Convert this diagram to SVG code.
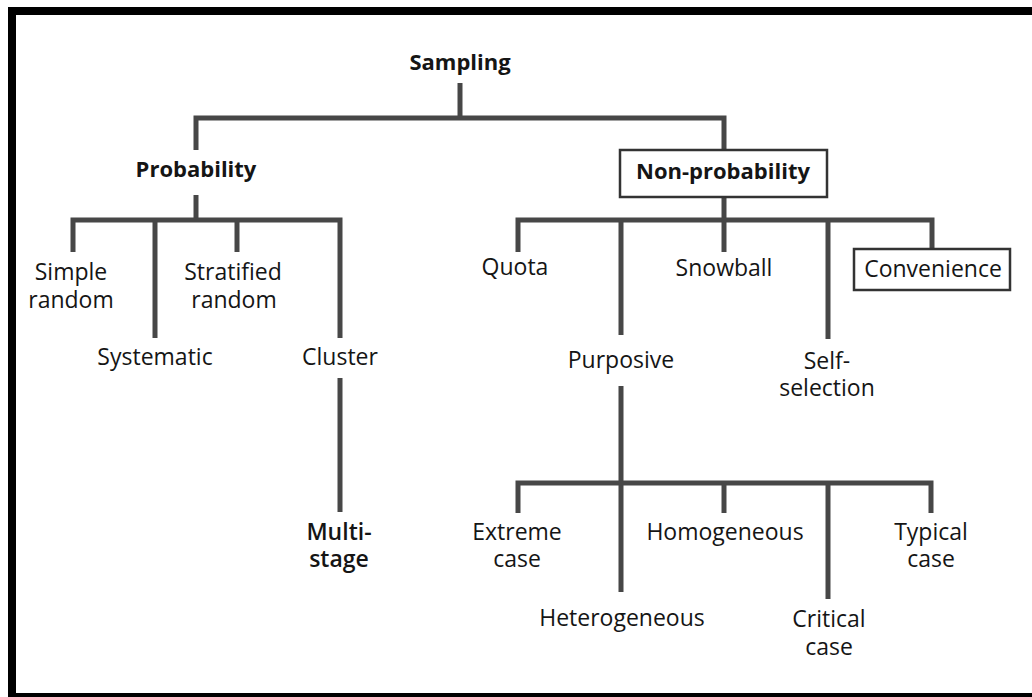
<svg xmlns="http://www.w3.org/2000/svg" width="1032" height="697" viewBox="0 0 1032 697">
  <style>
    text { font-family: "Open Sans", "Noto Sans", "DejaVu Sans", sans-serif; font-size: 23px; fill: #151515; text-anchor: middle; }
    .head { font-weight: 700; font-size: 22px; }
    .semi { font-weight: 600; }
    .link { fill: none; stroke: #474747; stroke-width: 5; stroke-linecap: butt; stroke-linejoin: miter; }
    .box { fill: #ffffff; stroke: #333333; stroke-width: 2.5; }
  </style>

  <!-- page background and frame -->
  <rect x="0" y="0" width="1032" height="697" fill="#ffffff"/>
  <rect x="12" y="11" width="1032" height="686" fill="none" stroke="#000000" stroke-width="8"/>

  <!-- tree connectors -->
  <g id="connectors">
    <path class="link" d="M460,83 V118"/>
    <path class="link" d="M196,150 V118 H724 V150"/>
    <path class="link" d="M196,195 V220"/>
    <path class="link" d="M73,252 V220 H340 V338"/>
    <path class="link" d="M155,220 V338"/>
    <path class="link" d="M237,220 V252"/>
    <path class="link" d="M340,378 V512"/>
    <path class="link" d="M724,197 V220"/>
    <path class="link" d="M518,252 V220 H932 V249"/>
    <path class="link" d="M621,220 V335"/>
    <path class="link" d="M724,220 V252"/>
    <path class="link" d="M828,220 V339"/>
    <path class="link" d="M621,386 V592"/>
    <path class="link" d="M518,513 V483 H931 V513"/>
    <path class="link" d="M724,483 V513"/>
    <path class="link" d="M828,483 V599"/>
  </g>

  <g id="sampling"><text class="head" x="460" y="70">Sampling</text></g>
  <g id="probability"><text class="head" x="196" y="177">Probability</text></g>
  <g id="non-probability">
    <rect class="box" x="620" y="150" width="207" height="47"/>
    <text class="head" x="723" y="179">Non-probability</text>
  </g>

  <g id="simple-random"><text x="71" y="280">Simple<tspan x="71" dy="28">random</tspan></text></g>
  <g id="systematic"><text x="155" y="365">Systematic</text></g>
  <g id="stratified-random"><text x="233" y="280">Stratified<tspan x="234" dy="28">random</tspan></text></g>
  <g id="cluster"><text x="340" y="365">Cluster</text></g>
  <g id="multi-stage"><text class="semi" x="339" y="540">Multi-<tspan x="339" dy="27">stage</tspan></text></g>

  <g id="quota"><text x="515" y="275">Quota</text></g>
  <g id="purposive"><text x="621" y="368">Purposive</text></g>
  <g id="snowball"><text x="724" y="276">Snowball</text></g>
  <g id="self-selection"><text x="827" y="369">Self-<tspan x="827" dy="27">selection</tspan></text></g>
  <g id="convenience">
    <rect class="box" x="854" y="249" width="156" height="41"/>
    <text x="933" y="277">Convenience</text>
  </g>

  <g id="extreme-case"><text x="517" y="540">Extreme<tspan x="517" dy="27">case</tspan></text></g>
  <g id="heterogeneous"><text x="622" y="626">Heterogeneous</text></g>
  <g id="homogeneous"><text x="725" y="540">Homogeneous</text></g>
  <g id="critical-case"><text x="829" y="627">Critical<tspan x="829" dy="28">case</tspan></text></g>
  <g id="typical-case"><text x="931" y="540">Typical<tspan x="931" dy="27">case</tspan></text></g>
</svg>
